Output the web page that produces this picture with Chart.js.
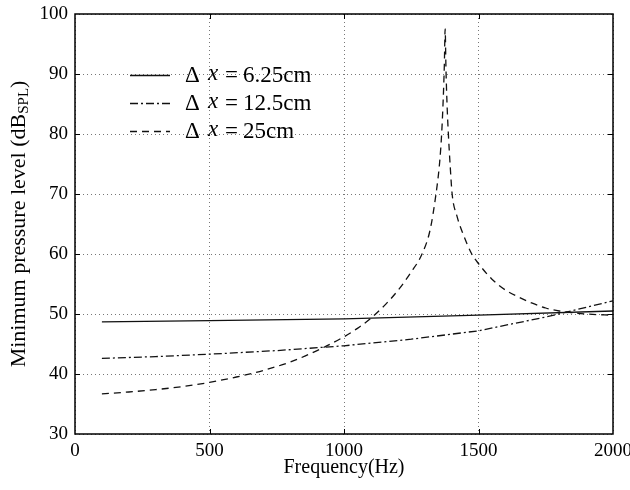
<!DOCTYPE html>
<html>
<head>
<meta charset="utf-8">
<script src="https://cdn.jsdelivr.net/npm/chart.js@4/dist/chart.umd.min.js"></script>
<style>
  html, body { margin: 0; padding: 0; background: #fff; }
  #wrap { width: 630px; height: 490px; position: relative; }
</style>
</head>
<body>
<div id="wrap"><canvas id="chart"></canvas></div>
<script>
const SERIF = '"Liberation Serif", "Times New Roman", serif';

// dx = 6.25cm (solid)
const freqA = [100, 500, 1000, 1500, 2000];
const dbA = [48.7, 48.9, 49.2, 49.8, 50.5];

// dx = 12.5cm (dash-dot)
const freqB = [100, 300, 500, 750, 1000, 1250, 1500, 1750, 2000];
const dbB = [42.6, 42.9, 43.3, 43.9, 44.7, 45.8, 47.2, 49.5, 52.2];

// dx = 25cm (dashed)
const freqC = [100, 200, 300, 400, 500, 600, 700, 800, 900, 1000, 1050, 1100, 1150, 1200,
  1250, 1290, 1320, 1342, 1355, 1363, 1369, 1373, 1376, 1379, 1383, 1388, 1395, 1402,
  1420, 1443, 1475, 1500, 1550, 1600, 1650, 1700, 1750, 1800, 1850, 1900, 2000];
const dbC = [36.7, 37.0, 37.4, 37.9, 38.6, 39.5, 40.6, 42.0, 43.9, 46.2, 47.6, 49.3, 51.4, 53.9,
  57.0, 60.0, 64.0, 70.0, 75.0, 80.0, 86.0, 91.5, 97.5, 91.0, 85.0, 80.0, 74.5, 70.0,
  66.3, 63.3, 60.0, 58.4, 55.8, 54.0, 52.8, 51.8, 51.0, 50.5, 50.2, 50.0, 49.8];

const legendLabels = ['6.25cm', '12.5cm', '25cm'];
const xTicks = [0, 500, 1000, 1500, 2000];
const yTicks = [30, 40, 50, 60, 70, 80, 90, 100];

const DASH_DOT = [8, 3, 2, 3];
const DASHED = [7, 5];

function pts(xs, ys) {
  return xs.map((x, i) => ({ x: x, y: ys[i] }));
}

const framePlugin = {
  id: 'frame',
  afterDraw(chart) {
    const ctx = chart.ctx;
    const a = chart.chartArea;
    const xs = chart.scales.x, ys = chart.scales.y;
    ctx.save();
    ctx.strokeStyle = '#000';
    ctx.lineWidth = 1.5;
    ctx.strokeRect(a.left, a.top, a.right - a.left, a.bottom - a.top);
    ctx.lineWidth = 1;
    const t = 5;
    ctx.beginPath();
    xTicks.slice(1, -1).forEach(v => {
      const px = Math.round(xs.getPixelForValue(v)) + 0.5;
      ctx.moveTo(px, a.bottom); ctx.lineTo(px, a.bottom - t);
      ctx.moveTo(px, a.top); ctx.lineTo(px, a.top + t);
    });
    yTicks.slice(1, -1).forEach(v => {
      const py = Math.round(ys.getPixelForValue(v)) + 0.5;
      ctx.moveTo(a.left, py); ctx.lineTo(a.left + t, py);
      ctx.moveTo(a.right, py); ctx.lineTo(a.right - t, py);
    });
    ctx.stroke();

    // legend
    const rows = [75, 103, 131];
    const dashes = [[], DASH_DOT, DASHED];
    rows.forEach((y, i) => {
      ctx.setLineDash(dashes[i]);
      ctx.lineWidth = 1.3;
      ctx.strokeStyle = '#111';
      ctx.beginPath();
      ctx.moveTo(130, y + 0.5); ctx.lineTo(170, y + 0.5);
      ctx.stroke();
      ctx.setLineDash([]);
      ctx.fillStyle = '#000';
      ctx.textBaseline = 'middle';
      ctx.textAlign = 'left';
      ctx.font = '23px ' + SERIF;
      ctx.fillText('\u0394', 185, y + 1);
      ctx.font = 'italic 23px ' + SERIF;
      ctx.fillText('x', 208, y - 1);
      ctx.font = '23px ' + SERIF;
      ctx.fillText('=', 225, y + 1);
      ctx.fillText(legendLabels[i], 243, y + 1);
    });

    // axis titles
    ctx.fillStyle = '#000';
    ctx.font = '20px ' + SERIF;
    ctx.textAlign = 'center';
    ctx.textBaseline = 'middle';
    ctx.fillText('Frequency(Hz)', (a.left + a.right) / 2, 468);

    ctx.translate(19, (a.top + a.bottom) / 2);
    ctx.rotate(-Math.PI / 2);
    const main = 'Minimum pressure level (dB';
    const sub = 'SPL';
    const close = ')';
    ctx.font = '22px ' + SERIF;
    const wMain = ctx.measureText(main).width;
    const wClose = ctx.measureText(close).width;
    ctx.font = '15px ' + SERIF;
    const wSub = ctx.measureText(sub).width;
    let x0 = -(wMain + wSub + wClose) / 2;
    ctx.textAlign = 'left';
    ctx.font = '22px ' + SERIF;
    ctx.fillText(main, x0, 0);
    ctx.font = '15px ' + SERIF;
    ctx.fillText(sub, x0 + wMain, 5);
    ctx.font = '22px ' + SERIF;
    ctx.fillText(close, x0 + wMain + wSub, 0);
    ctx.restore();
  }
};

new Chart(document.getElementById('chart'), {
  type: 'line',
  data: {
    datasets: [
      { data: pts(freqA, dbA), borderColor: '#111', borderWidth: 1.3 },
      { data: pts(freqB, dbB), borderColor: '#111', borderWidth: 1.3, borderDash: DASH_DOT },
      { data: pts(freqC, dbC), borderColor: '#111', borderWidth: 1.3, borderDash: DASHED,
        cubicInterpolationMode: 'monotone' }
    ]
  },
  options: {
    responsive: true,
    maintainAspectRatio: false,
    animation: false,
    layout: { padding: { left: 0, top: 14, right: 17, bottom: 0 } },
    elements: { point: { radius: 0 }, line: { tension: 0 } },
    plugins: { legend: { display: false }, tooltip: { enabled: false } },
    scales: {
      x: {
        type: 'linear', min: 0, max: 2000,
        afterBuildTicks: s => { s.ticks = xTicks.map(v => ({ value: v })); },
        afterFit: s => { s.height = 56; s.paddingLeft = 0; s.paddingRight = 0; },
        grid: { color: '#777', lineWidth: 1, drawTicks: false },
        border: { display: false, dash: [1, 3] },
        ticks: { color: '#000', padding: 6, maxRotation: 0, callback: v => String(v),
          font: { family: SERIF, size: 19 } }
      },
      y: {
        min: 30, max: 100,
        afterBuildTicks: s => { s.ticks = yTicks.map(v => ({ value: v })); },
        afterFit: s => { s.width = 75; s.paddingTop = 0; s.paddingBottom = 0; },
        grid: { color: '#777', lineWidth: 1, drawTicks: false },
        border: { display: false, dash: [1, 3] },
        ticks: { color: '#000', padding: 7, callback: v => String(v),
          font: { family: SERIF, size: 19 } }
      }
    }
  },
  plugins: [framePlugin]
});
</script>
</body>
</html>
